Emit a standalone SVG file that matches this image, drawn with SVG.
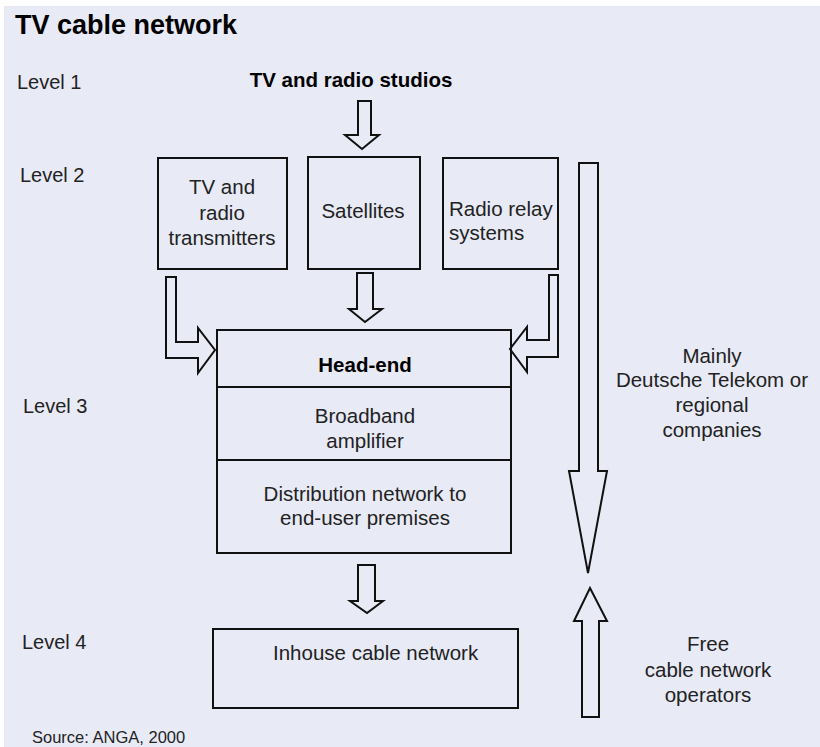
<svg xmlns="http://www.w3.org/2000/svg" width="820" height="747" viewBox="0 0 820 747">
  <style>
    .bg { fill: #e8eaf6; }
    .box { fill: none; stroke: #111; stroke-width: 2; }
    .arrow { fill: none; stroke: #111; stroke-width: 2; stroke-linejoin: miter; }
    text { font-family: "Liberation Sans", Arial, sans-serif; fill: #222; }
    .t { font-size: 20.5px; }
    .lvl { font-size: 20px; }
    .b { font-weight: bold; fill: #000; }
    .c { text-anchor: middle; }
  </style>

  <rect x="0" y="0" width="820" height="747" fill="#ffffff"/>
  <rect class="bg" x="4" y="6" width="816" height="741"/>

  <text x="15" y="34" font-size="27" class="b">TV cable network</text>

  <g id="levels">
    <text class="lvl" x="17" y="89">Level 1</text>
    <text class="lvl" x="20" y="182">Level 2</text>
    <text class="lvl" x="23" y="413">Level 3</text>
    <text class="lvl" x="22" y="649">Level 4</text>
  </g>

  <g id="studios">
    <text class="t b c" x="351" y="87" font-size="21">TV and radio studios</text>
  </g>

  <g id="transmitters">
    <rect class="box" x="158" y="158" width="129" height="111"/>
    <text class="t c" x="222" y="194">TV and</text>
    <text class="t c" x="222" y="220">radio</text>
    <text class="t c" x="222" y="245">transmitters</text>
  </g>

  <g id="satellites">
    <rect class="box" x="308" y="157" width="112" height="112"/>
    <text class="t c" x="363" y="218">Satellites</text>
  </g>

  <g id="relay">
    <rect class="box" x="443" y="158" width="115" height="111"/>
    <text class="t" x="449" y="216">Radio relay</text>
    <text class="t" x="449" y="240">systems</text>
  </g>

  <g id="headend">
    <rect class="box" x="217" y="330" width="294" height="223"/>
    <line class="box" x1="217" y1="387" x2="511" y2="387"/>
    <line class="box" x1="217" y1="460" x2="511" y2="460"/>
    <text class="t b c" x="365" y="372">Head-end</text>
    <text class="t c" x="365" y="423">Broadband</text>
    <text class="t c" x="365" y="448">amplifier</text>
    <text class="t c" x="365" y="501">Distribution network to</text>
    <text class="t c" x="365" y="525">end-user premises</text>
  </g>

  <g id="inhouse">
    <rect class="box" x="213" y="629" width="305" height="79"/>
    <text class="t" x="273" y="660">Inhouse cable network</text>
  </g>

  <g id="connectors">
    <!-- studios to satellites -->
    <path class="arrow" d="M358,101 H371 V135 H379 L362,149 L345,135 H358 Z"/>
    <!-- satellites to head-end -->
    <path class="arrow" d="M357,273 H373 V309 H382 L365,322 L349,309 H357 Z"/>
    <!-- transmitters to head-end -->
    <path class="arrow" d="M166,277 H176 V342 H198 V328 L215,350 L198,373 V358 H166 Z"/>
    <!-- relay systems to head-end -->
    <path class="arrow" d="M558,275 H549 V340 H527 V327 L510,349 L527,372 V357 H558 Z"/>
    <!-- head-end to inhouse network -->
    <path class="arrow" d="M358,565 H375 V601 H383 L367,613 L350,601 H358 Z"/>
    <!-- operator range arrows -->
    <path class="arrow" d="M579,163 H598 V471 H607 L588,573 L569,471 H579 Z"/>
    <path class="arrow" d="M582,717 H599 V621 H607 L590,588 L574,621 H582 Z"/>
  </g>

  <g id="operators">
    <text class="t c" x="712" y="363">Mainly</text>
    <text class="t c" x="712" y="387">Deutsche Telekom or</text>
    <text class="t c" x="712" y="412">regional</text>
    <text class="t c" x="712" y="437">companies</text>
    <text class="t c" x="708" y="651">Free</text>
    <text class="t c" x="708" y="677">cable network</text>
    <text class="t c" x="708" y="702">operators</text>
  </g>

  <text x="32" y="743" font-size="16.5">Source: ANGA, 2000</text>
</svg>
